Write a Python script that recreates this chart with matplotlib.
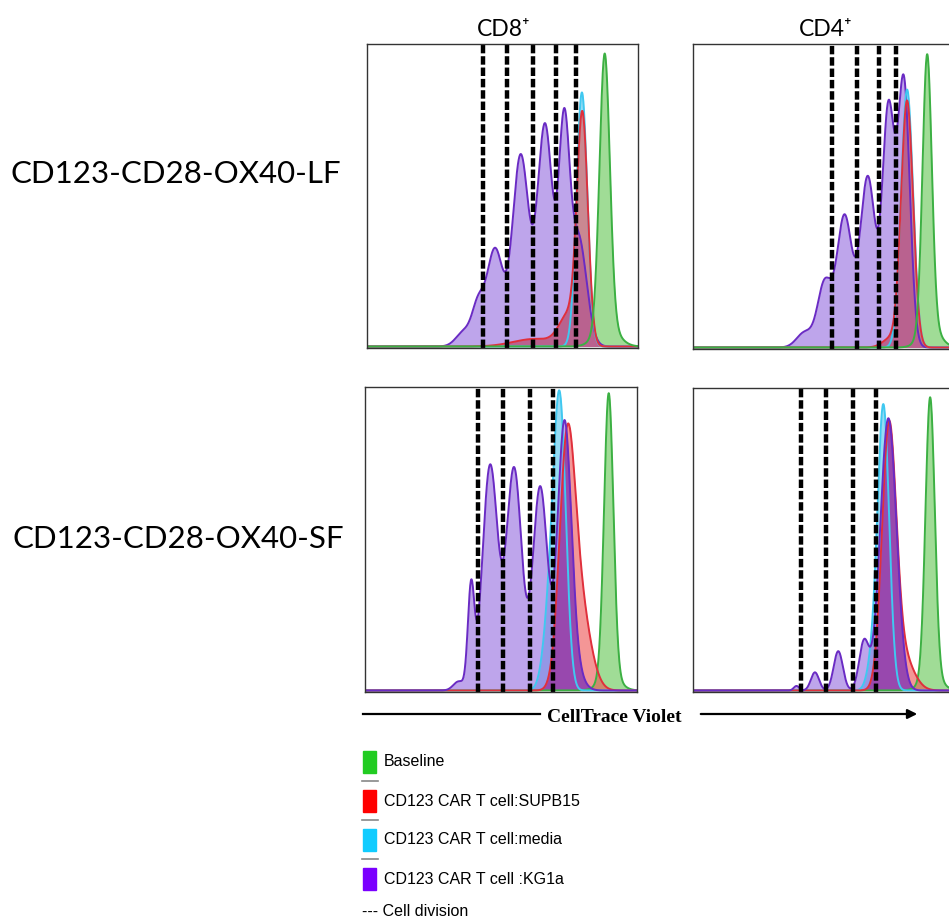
import numpy as np
import matplotlib
matplotlib.use("Agg")
import matplotlib.pyplot as plt
from matplotlib.lines import Line2D
from matplotlib.patches import FancyArrowPatch, Rectangle

# x: position across the panel (0-1), y: peak height (fraction of panel)
# each entry = (peak position, peak height, peak width)
lf_cd8_baseline = [(0.877, 0.90, 0.019), (0.885, 0.07, 0.04)]
lf_cd8_supb15 = [(0.795, 0.74, 0.02), (0.745, 0.1, 0.035), (0.62, 0.025, 0.08)]
lf_cd8_media = [(0.793, 0.84, 0.02)]
lf_cd8_kg1a = [(0.36, 0.05, 0.03), (0.41, 0.12, 0.022), (0.472, 0.32, 0.03),
               (0.567, 0.63, 0.03), (0.657, 0.73, 0.028), (0.727, 0.68, 0.02),
               (0.78, 0.36, 0.03)]
lf_cd8_div = [0.429, 0.515, 0.614, 0.698, 0.772]

lf_cd4_baseline = [(0.864, 0.90, 0.017), (0.875, 0.07, 0.035)]
lf_cd4_supb15 = [(0.79, 0.81, 0.022), (0.73, 0.03, 0.03)]
lf_cd4_media = [(0.79, 0.85, 0.022)]
lf_cd4_kg1a = [(0.413, 0.05, 0.03), (0.486, 0.21, 0.026), (0.559, 0.43, 0.028),
               (0.645, 0.56, 0.028), (0.721, 0.77, 0.022), (0.778, 0.87, 0.022)]
lf_cd4_div = [0.512, 0.607, 0.688, 0.748]

sf_cd8_baseline = [(0.896, 0.93, 0.017), (0.9, 0.05, 0.035)]
sf_cd8_supb15 = [(0.742, 0.7, 0.028), (0.785, 0.3, 0.04)]
sf_cd8_media = [(0.718, 0.85, 0.022), (0.685, 0.3, 0.025)]
sf_cd8_kg1a = [(0.345, 0.03, 0.02), (0.39, 0.33, 0.012), (0.46, 0.74, 0.028),
               (0.548, 0.73, 0.028), (0.644, 0.67, 0.027), (0.733, 0.86, 0.025),
               (0.77, 0.06, 0.03)]
sf_cd8_div = [0.417, 0.507, 0.608, 0.693]

sf_cd4_baseline = [(0.875, 0.92, 0.017), (0.88, 0.05, 0.035)]
sf_cd4_supb15 = [(0.723, 0.83, 0.026), (0.77, 0.12, 0.04)]
sf_cd4_media = [(0.703, 0.93, 0.021), (0.665, 0.1, 0.02)]
sf_cd4_kg1a = [(0.382, 0.015, 0.01), (0.45, 0.06, 0.015), (0.536, 0.13, 0.017),
               (0.631, 0.16, 0.018), (0.721, 0.9, 0.03)]
sf_cd4_div = [0.397, 0.489, 0.59, 0.676]

row_labels = ["CD123-CD28-OX40-LF", "CD123-CD28-OX40-SF"]
col_labels = ["CD8\u207a", "CD4\u207a"]
legend_labels = ["Baseline", "CD123 CAR T cell:SUPB15", "CD123 CAR T cell:media",
                 "CD123 CAR T cell :KG1a"]

# order: baseline, supb15, media, kg1a
line_cols = ["#3cb043", "#e0303c", "#40c8f0", "#6a2bc4"]
fill_cols = ["#61c550", "#ee5050", "#50c5ee", "#9369de"]
legend_cols = ["#22cc22", "#ff0000", "#11ccff", "#7a00ff"]
overlap_cols = ["#b9628f", "#9848ae"]   # red/purple overlap, top row / bottom row

W, H = 949, 923
fig = plt.figure(figsize=(W / 100, H / 100), dpi=100)

x = np.linspace(0, 1, 800)


def curve(peaks):
    y = np.zeros_like(x)
    for p, h, w in peaks:
        y += h * np.exp(-(x - p) ** 2 / (2 * w ** 2))
    return y


def px_axes(l, t, r, b):
    return fig.add_axes([l / W, 1 - b / H, (r - l) / W, (b - t) / H])


panels = [
    ((367, 44, 638, 348), [lf_cd8_baseline, lf_cd8_supb15, lf_cd8_media, lf_cd8_kg1a], lf_cd8_div, 0),
    ((693, 44, 964, 349), [lf_cd4_baseline, lf_cd4_supb15, lf_cd4_media, lf_cd4_kg1a], lf_cd4_div, 0),
    ((365, 387, 637, 692), [sf_cd8_baseline, sf_cd8_supb15, sf_cd8_media, sf_cd8_kg1a], sf_cd8_div, 1),
    ((693, 388, 964, 692), [sf_cd4_baseline, sf_cd4_supb15, sf_cd4_media, sf_cd4_kg1a], sf_cd4_div, 1),
]

for box, series, divs, row in panels:
    ax = px_axes(*box)
    ys = [curve(s) for s in series]
    for i in [0, 2, 3, 1]:
        ax.fill_between(x, 0, ys[i], color=fill_cols[i], alpha=0.6, lw=0)
    ax.fill_between(x, 0, np.minimum(ys[1], ys[3]), color=overlap_cols[row], lw=0)
    line_order = [3, 2, 1, 0] if row == 0 else [0, 2, 1, 3]
    for i in line_order:
        ax.plot(x, ys[i], color=line_cols[i], lw=1.4)
    for d in divs:
        ax.axvline(d, color="black", lw=3.2, dashes=(1.9, 0.65))
    ax.set_xlim(0, 1)
    ax.set_ylim(-0.005, 1.0)
    ax.set_xticks([])
    ax.set_yticks([])
    for s in ax.spines.values():
        s.set_color("#333333")
        s.set_linewidth(1.0)

lab_font = ["Lato", "DejaVu Sans"]
fig.text(10 / W, 1 - 183 / H, row_labels[0], fontsize=22.5, family=lab_font, va="baseline", ha="left")
fig.text(12 / W, 1 - 548 / H, row_labels[1], fontsize=22.5, family=lab_font, va="baseline", ha="left")
fig.text(504 / W, 1 - 36 / H, col_labels[0], fontsize=16.5, family=lab_font, va="baseline", ha="center")
fig.text(826 / W, 1 - 36 / H, col_labels[1], fontsize=16.5, family=lab_font, va="baseline", ha="center")

# axis arrow
fig.add_artist(Line2D([363 / W, 540 / W], [1 - 714 / H] * 2, color="black", lw=1.6))
fig.add_artist(FancyArrowPatch((698 / W, 1 - 714 / H), (920 / W, 1 - 714 / H),
                               transform=fig.transFigure, arrowstyle="-|>",
                               mutation_scale=14, color="black", lw=1.6))
fig.text(614 / W, 1 - 717 / H, "CellTrace Violet", fontsize=14, family="Liberation Serif",
         weight="bold", ha="center", va="center")

# legend
for k, lab in enumerate(legend_labels):
    yc = 762 + 39 * k
    fig.add_artist(Rectangle((363 / W, 1 - (yc + 11) / H), 13 / W, 22 / H,
                             transform=fig.transFigure, color=legend_cols[k]))
    fig.text(384 / W, 1 - yc / H, lab, fontsize=11.5, family="Liberation Sans", va="center")
    if k < 3:
        fig.add_artist(Line2D([362 / W, 378 / W], [1 - (yc + 19) / H] * 2,
                              color="#888888", lw=1.2))
fig.text(362 / W, 1 - 912 / H, "--- Cell division", fontsize=11.5, family="Liberation Sans",
         va="center")

fig.savefig("out.png", dpi=100)
